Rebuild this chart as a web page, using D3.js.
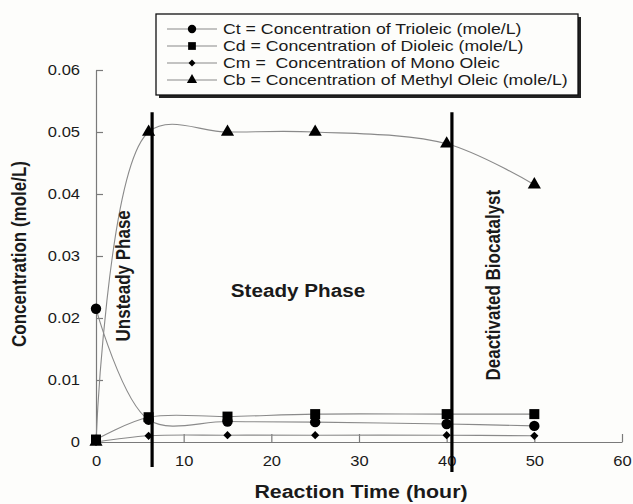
<!DOCTYPE html>
<html>
<head>
<meta charset="utf-8">
<script src="https://cdn.jsdelivr.net/npm/d3@7"></script>
<style>
  html, body { margin: 0; padding: 0; background: #fdfdfb; }
  svg { display: block; font-family: "Liberation Sans", Arial, sans-serif; }
</style>
</head>
<body>
<svg id="chart" width="633" height="504"></svg>
<script>
// ---- data ----
const times = [0, 6, 15, 25, 40, 50];
const ct = [0.0215, 0.0036, 0.0033, 0.0032, 0.0029, 0.0026];
const cd = [0.0004, 0.0040, 0.0041, 0.0045, 0.0045, 0.0045];
const cm = [0.0000, 0.0010, 0.0011, 0.0011, 0.0011, 0.0010];
const cb = [0.0000, 0.0500, 0.0500, 0.0500, 0.0481, 0.0415];
const seriesNames = [
  "Ct = Concentration of Trioleic (mole/L)",
  "Cd = Concentration of Dioleic (mole/L)",
  "Cm =  Concentration of Mono Oleic",
  "Cb = Concentration of Methyl Oleic (mole/L)"
];
const xTicks = [0, 10, 20, 30, 40, 50, 60];
const yTicks = [0, 0.01, 0.02, 0.03, 0.04, 0.05, 0.06];
const yTickLabels = ["0", "0.01", "0.02", "0.03", "0.04", "0.05", "0.06"];
const phaseLines = [6.4, 40.6];
const phaseLabels = ["Unsteady Phase", "Steady Phase", "Deactivated Biocatalyst"];
const xTitle = "Reaction Time (hour)";
const yTitle = "Concentration (mole/L)";

(function () {
const svg = d3.select("#chart");
const pLeft = 96, pRight = 622, pTop = 70, pBottom = 442;
const x = d3.scaleLinear().domain([0, 60]).range([pLeft, pRight]);
const y = d3.scaleLinear().domain([0, 0.06]).range([pBottom, pTop]);

const axisColor = "#7a7a7a";
const lineColor = "#8a8a8a";
const textColor = "#1a1a1a";

// horizontally widen text (the reference's type is wide)
function widen(sel, f) {
  sel.each(function () {
    const w = this.getComputedTextLength();
    d3.select(this).attr("textLength", w * f).attr("lengthAdjust", "spacingAndGlyphs");
  });
}

// axes
const xAxis = d3.axisBottom(x).tickValues(xTicks).tickSizeInner(-8).tickSizeOuter(0).tickPadding(14)
  .tickFormat(d => String(d));
const gx = svg.append("g").attr("transform", `translate(0,${pBottom})`).call(xAxis);
const yAxis = d3.axisLeft(y).tickValues(yTicks).tickSizeInner(-7).tickSizeOuter(0).tickPadding(16)
  .tickFormat((d, i) => yTickLabels[i]);
const gy = svg.append("g").attr("transform", `translate(${pLeft},0)`).call(yAxis);
[gx, gy].forEach(g => {
  g.select(".domain").attr("stroke", axisColor).attr("stroke-width", 1.2);
  g.selectAll(".tick line").attr("stroke", axisColor).attr("stroke-width", 1.2);
  g.selectAll(".tick text").attr("fill", textColor).style("font-size", "14px")
    .style("font-family", "'Liberation Sans', Arial, sans-serif");
  widen(g.selectAll(".tick text"), 1.18);
});

// curves
const seriesData = [ct, cd, cm, cb];
const markerTypes = [d3.symbolCircle, d3.symbolSquare, d3.symbolSquare, d3.symbolTriangle];
const markerRot = [0, 0, 45, 0];
const markerSizes = [85, 100, 34, 75];
const legendMarkerSizes = [55, 60, 24, 45];
const line = d3.line()
  .x((d, i) => x(times[i]))
  .y(d => y(d))
  .curve(d3.curveCatmullRom.alpha(0.5));

seriesData.forEach((vals) => {
  svg.append("path").datum(vals).attr("d", line)
    .attr("fill", "none").attr("stroke", lineColor).attr("stroke-width", 1.1);
});
seriesData.forEach((vals, k) => {
  svg.append("g").selectAll("path").data(vals).join("path")
    .attr("transform", (d, i) => `translate(${x(times[i])},${y(d)}) rotate(${markerRot[k]})`)
    .attr("d", d3.symbol().type(markerTypes[k]).size(markerSizes[k]))
    .attr("fill", "#000");
});

// phase lines
phaseLines.forEach((t, i) => {
  svg.append("line")
    .attr("x1", x(t)).attr("x2", x(t))
    .attr("y1", y(0.0532)).attr("y2", pBottom + (i === 0 ? 25 : 30))
    .attr("stroke", "#000").attr("stroke-width", 3.2);
});

// phase labels
svg.append("text").text(phaseLabels[0])
  .attr("transform", `translate(130,${y(0.0268)}) rotate(-90) scale(1,1.18)`)
  .attr("text-anchor", "middle").attr("fill", textColor)
  .style("font-weight", "bold").style("font-size", "17px");
const steady = svg.append("text").text(phaseLabels[1])
  .attr("x", 298).attr("y", 297)
  .attr("text-anchor", "middle").attr("fill", textColor)
  .style("font-weight", "bold").style("font-size", "17.5px");
widen(steady, 1.18);
svg.append("text").text(phaseLabels[2])
  .attr("transform", `translate(500,${y(0.0253)}) rotate(-90) scale(1,1.18)`)
  .attr("text-anchor", "middle").attr("fill", textColor)
  .style("font-weight", "bold").style("font-size", "17px");

// axis titles
const xt = svg.append("text").text(xTitle)
  .attr("x", 361).attr("y", 498)
  .attr("text-anchor", "middle").attr("fill", textColor)
  .style("font-weight", "bold").style("font-size", "17.5px");
widen(xt, 1.22);
svg.append("text").text(yTitle)
  .attr("transform", `translate(26,254) rotate(-90) scale(1,1.18)`)
  .attr("text-anchor", "middle").attr("fill", textColor)
  .style("font-weight", "bold").style("font-size", "17px");

// legend
const lg = svg.append("g");
lg.append("rect").attr("x", 159).attr("y", 17).attr("width", 422).attr("height", 81).attr("fill", "#222");
lg.append("rect").attr("x", 156).attr("y", 14).attr("width", 422).attr("height", 81)
  .attr("fill", "#fdfdfb").attr("stroke", "#111").attr("stroke-width", 1.3);
seriesNames.forEach((name, k) => {
  const ry = 29 + k * 17;
  lg.append("line").attr("x1", 167).attr("x2", 217).attr("y1", ry).attr("y2", ry)
    .attr("stroke", lineColor).attr("stroke-width", 1.1);
  lg.append("path").attr("transform", `translate(192,${ry}) rotate(${markerRot[k]})`)
    .attr("d", d3.symbol().type(markerTypes[k]).size(legendMarkerSizes[k])).attr("fill", "#000");
  const t = lg.append("text").text(name).attr("x", 223).attr("y", ry + 5)
    .attr("fill", textColor).style("font-size", "14.5px")
    .style("white-space", "pre");
  widen(t, 1.22);
});
})();
</script>
</body>
</html>
